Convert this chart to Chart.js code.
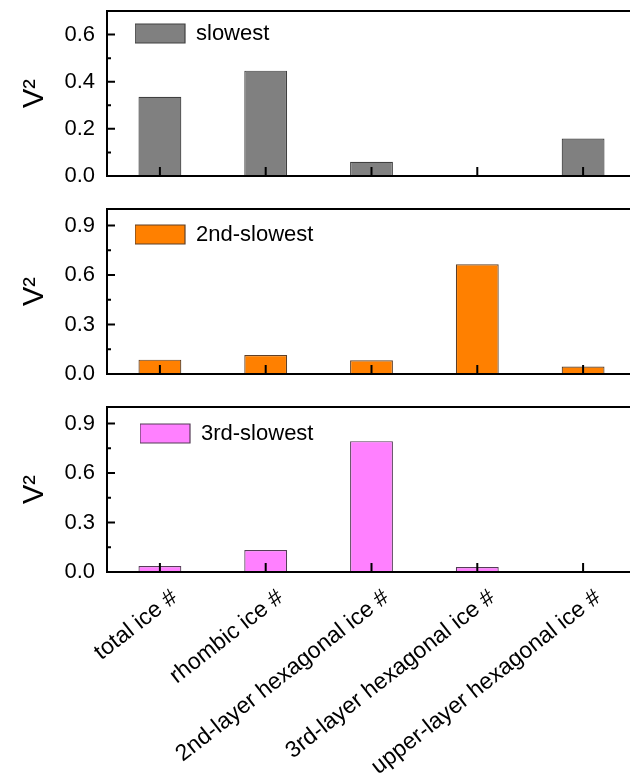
<!DOCTYPE html>
<html>
<head>
<meta charset="utf-8">
<script src="https://cdn.jsdelivr.net/npm/chart.js@4"></script>
<style>
  html, body { margin: 0; padding: 0; background: #fff; overflow: hidden; }
  #wrap { position: relative; width: 630px; height: 779px; overflow: hidden; }
  #wrap div { position: absolute; left: 0; width: 636px; }
</style>
</head>
<body>
<div id="wrap">
  <div style="top:0;height:195px"><canvas id="c1"></canvas></div>
  <div style="top:195px;height:197px"><canvas id="c2"></canvas></div>
  <div style="top:392px;height:387px"><canvas id="c3"></canvas></div>
</div>
<script>
const categories = ["total ice #", "rhombic ice #", "2nd-layer hexagonal ice #",
  "3rd-layer hexagonal ice #", "upper-layer hexagonal ice #"];
const slowest = [0.336, 0.447, 0.060, 0.004, 0.159];
const secondSlowest = [0.087, 0.115, 0.083, 0.665, 0.045];
const thirdSlowest = [0.036, 0.133, 0.793, 0.030, 0.002];

const FONT = "'Liberation Sans', Arial, sans-serif";

// frame + inward ticks, like the original Origin plot
const framePlugin = {
  id: "frame",
  afterLayout(chart, args, opts) {
    const a = chart.chartArea;
    if (chart.legend) {
      chart.legend.left = a.left + opts.dx;
      chart.legend.top = a.top + opts.dy;
    }
  },
  afterDatasetsDraw(chart) {
    const ctx = chart.ctx;
    const a = chart.chartArea;
    const y = chart.scales.y;
    const x = chart.scales.x;
    ctx.save();
    ctx.strokeStyle = "#000";
    ctx.lineWidth = 2;
    ctx.strokeRect(a.left, a.top, a.right - a.left, a.bottom - a.top);
    const vals = y.ticks.map(t => t.value);
    const step = vals[1] - vals[0];
    ctx.beginPath();
    vals.forEach(v => {
      const py = y.getPixelForValue(v);
      ctx.moveTo(a.left, py); ctx.lineTo(a.left + 8, py);
      const m = v + step / 2;
      if (m < y.max) {
        const pm = y.getPixelForValue(m);
        ctx.moveTo(a.left, pm); ctx.lineTo(a.left + 4, pm);
      }
    });
    categories.forEach((c, i) => {
      const px = x.getPixelForValue(i);
      ctx.moveTo(px, a.bottom); ctx.lineTo(px, a.bottom - 9);
    });
    ctx.stroke();
    ctx.restore();
  }
};

function makePanel(id, values, label, fill, border, yMax, yStep, padTop, xHeight, showX, legendShift) {
  return new Chart(document.getElementById(id), {
    type: "bar",
    data: {
      labels: categories,
      datasets: [{
        label: label,
        data: values,
        backgroundColor: fill,
        borderColor: border,
        borderWidth: 1.2,
        categoryPercentage: 1,
        barPercentage: 0.405
      }]
    },
    options: {
      responsive: true,
      maintainAspectRatio: false,
      animation: false,
      layout: { padding: { top: padTop, left: 0, right: 0, bottom: 0 } },
      plugins: {
        legend: {
          position: "chartArea",
          align: "start",
          labels: {
            boxWidth: 50,
            boxHeight: 19,
            padding: 0,
            color: "#000",
            font: { family: FONT, size: 22 }
          }
        },
        tooltip: { enabled: false },
        frame: legendShift
      },
      scales: {
        x: {
          grid: { display: false, drawTicks: false },
          border: { display: false },
          ticks: {
            display: showX,
            autoSkip: false,
            minRotation: 38,
            maxRotation: 38,
            padding: 12,
            labelOffset: 15,
            color: "#000",
            font: { family: FONT, size: 23 }
          },
          afterFit(s) {
            s.height = xHeight;
            s.paddingLeft = 0; s.paddingRight = 0;
          }
        },
        y: {
          min: 0,
          max: yMax,
          grid: { display: false, drawTicks: false },
          border: { display: false },
          ticks: {
            stepSize: yStep,
            includeBounds: false,
            padding: 12,
            color: "#000",
            font: { family: FONT, size: 22 },
            callback: v => v.toFixed(1)
          },
          title: {
            display: true,
            text: "V\u00B2",
            color: "#000",
            padding: { top: 18, bottom: 0 },
            font: { family: FONT, size: 29 }
          },
          afterFit(s) {
            s.width = 107;
            s.paddingTop = 0; s.paddingBottom = 0;
          }
        }
      }
    },
    plugins: [framePlugin]
  });
}

makePanel("c1", slowest, "slowest", "#808080", "#404040", 0.7, 0.2, 11, 19, false, { dx: 28, dy: 11.5 });
makePanel("c2", secondSlowest, "2nd-slowest", "#ff8000", "#5e4028", 1.0, 0.3, 14, 18, false, { dx: 28, dy: 14.5 });
makePanel("c3", thirdSlowest, "3rd-slowest", "#ff80ff", "#553d57", 1.0, 0.3, 15, 207, true, { dx: 33, dy: 15.5 });
</script>
</body>
</html>
